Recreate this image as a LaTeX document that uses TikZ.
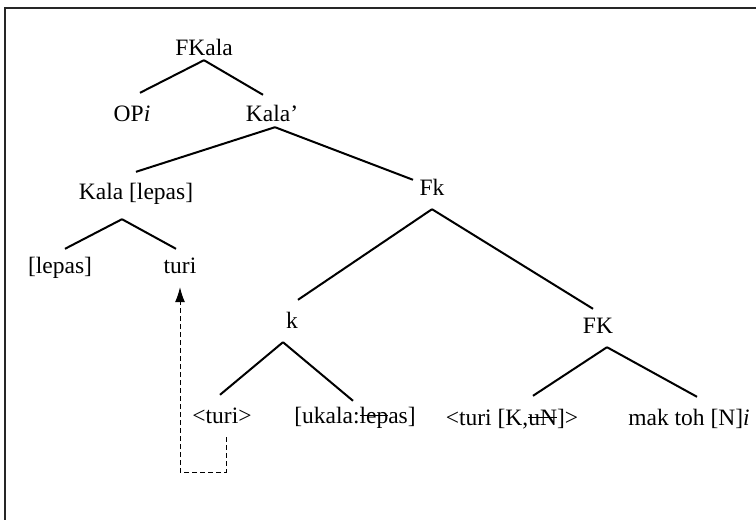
\documentclass[tikz,border=0pt]{standalone}
\usepackage{fontspec}
\setmainfont{Liberation Serif}
\usepackage{tikz}
\usetikzlibrary{arrows.meta}
\tikzset{>=latex}
\newcommand{\strk}[1]{\setbox0\hbox{#1}\rlap{\rule[0.28em]{\wd0}{0.05em}}\box0}

\begin{document}
\begin{tikzpicture}[x=1pt,y=-1pt,
  word/.style={anchor=base,inner xsep=1pt,inner ysep=10pt,text height=14pt,text depth=4pt,font=\fontsize{23.5}{28}\selectfont},
  branch/.style={line width=2pt},
  trace/.style={dash pattern=on 5pt off 3pt,line width=1pt,-{Latex[length=15pt,width=10pt]}}]
\useasboundingbox (0,0) rectangle (756,520);
\draw[line width=2.2pt,black!85] (756,8) -- (5,8) -- (5,520); %frame
% words
\node[word] (fkala) at (204,55) {FKala};
\node[word] (opi) at (132,121) {OP\textit{i}};
\node[word] (kalap) at (272,121) {Kala'};
\node[word] (kalalepas) at (136,199) {Kala [lepas]};
\node[word] (fk) at (432,195) {Fk};
\node[word] (lepas) at (60,273) {[lepas]};
\node[word] (turi) at (180,273) {turi};
\node[word] (k) at (292,328) {k};
\node[word] (fkb) at (598,333) {FK};
\node[word] (turib) at (222,423) {<turi>};
\node[word] (ukala) at (355,423) {[ukala:\strk{lep}as]};
\node[word] (turik) at (512,425) {<turi [K,\strk{uN}]>};
\node[word] (maktoh) at (689,425) {mak toh [N]\textit{i}};
% branches
\draw[branch] ([yshift=9pt]fkala.south) -- ([xshift=8pt,yshift=4pt]opi.north);
\draw[branch] ([yshift=9pt]fkala.south) -- ([xshift=-9pt,yshift=2pt]kalap.north);
\draw[branch] ([xshift=3pt,yshift=8pt]kalap.south) -- ([yshift=3pt]kalalepas.north);
\draw[branch] ([xshift=3pt,yshift=8pt]kalap.south) -- ([xshift=-19pt,yshift=-9pt]fk.north);
\draw[branch] ([xshift=-14pt,yshift=-6pt]kalalepas.south) -- ([xshift=5pt]lepas.north);
\draw[branch] ([xshift=-14pt,yshift=-6pt]kalalepas.south) -- ([xshift=-4pt]turi.north);
\draw[branch] (fk.south) -- ([xshift=6pt,yshift=4pt]k.north);
\draw[branch] (fk.south) -- ([xshift=-5pt]fkb.north);
\draw[branch] ([xshift=-9pt]k.south) -- ([xshift=-2pt,yshift=4pt]turib.north);
\draw[branch] ([xshift=-9pt]k.south) -- ([xshift=-2pt,yshift=-2pt]ukala.north);
\draw[branch] ([xshift=9pt]fkb.south) -- ([xshift=21pt,yshift=5pt]turik.north);
\draw[branch] ([xshift=9pt]fkb.south) -- ([xshift=8pt,yshift=4pt]maktoh.north);
% movement
\draw[trace] ([xshift=4pt]turib.south) -- ++(0,35) -| (turi.south);
\end{tikzpicture}
\end{document}
